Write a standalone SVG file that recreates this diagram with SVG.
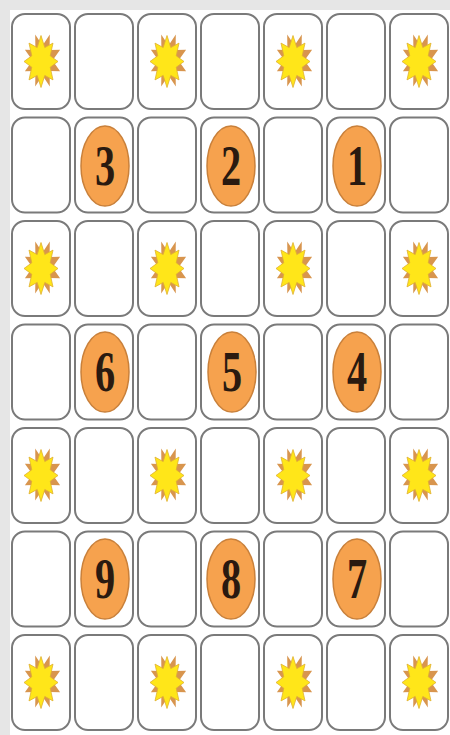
<svg xmlns="http://www.w3.org/2000/svg" xmlns:xlink="http://www.w3.org/1999/xlink" width="450" height="735" viewBox="0 0 450 735">
<style>
.cell{fill:#ffffff;stroke:#7a7a7a;stroke-width:2}
.disc{fill:#f6a24e;stroke:#c9803a;stroke-width:1.5}
.num{font-family:"Liberation Serif","DejaVu Serif",serif;font-weight:bold;font-size:56px;fill:#2a1a10;text-anchor:middle}
.sy{fill:#ffe619;stroke:#e0b030;stroke-width:0.8}
.so{fill:#d8954e}
</style>
<defs>
<g id="star">
<polygon class="so" transform="translate(1.5,-1)" points="0,-15 7.3,-25.9 7.1,-10.6 17.6,-10.7 10,0 17.6,10.7 7.1,10.6 7.3,25.9 0,15 -7.3,25.9 -7.1,10.6 -17.6,10.7 -10,0 -17.6,-10.7 -7.1,-10.6 -7.3,-25.9"/>
<polygon class="sy" points="0,-26 3.8,-13.9 12,-18.4 9.2,-5.7 17,0 9.2,5.7 12,18.4 3.8,13.9 0,26 -3.8,13.9 -12,18.4 -9.2,5.7 -17,0 -9.2,-5.7 -12,-18.4 -3.8,-13.9"/>
</g>
</defs>
<rect width="450" height="735" fill="#e6e6e6"/>
<rect x="10" y="10" width="440" height="725" fill="#ffffff"/>
<g id="connectors"/>
<!-- Row 0 -->
<g id="r0c0"><rect class="cell" x="12" y="14" width="58" height="95" rx="13"/><use xlink:href="#star" href="#star" x="41" y="61.5"/></g>
<g id="r0c1"><rect class="cell" x="75" y="14" width="58" height="95" rx="13"/></g>
<g id="r0c2"><rect class="cell" x="138" y="14" width="58" height="95" rx="13"/><use xlink:href="#star" href="#star" x="167" y="61.5"/></g>
<g id="r0c3"><rect class="cell" x="201" y="14" width="58" height="95" rx="13"/></g>
<g id="r0c4"><rect class="cell" x="264" y="14" width="58" height="95" rx="13"/><use xlink:href="#star" href="#star" x="293" y="61.5"/></g>
<g id="r0c5"><rect class="cell" x="327" y="14" width="58" height="95" rx="13"/></g>
<g id="r0c6"><rect class="cell" x="390" y="14" width="58" height="95" rx="13"/><use xlink:href="#star" href="#star" x="419" y="61.5"/></g>
<!-- Row 1 -->
<g id="r1c0"><rect class="cell" x="12" y="117.5" width="58" height="95" rx="13"/></g>
<g id="r1c1"><rect class="cell" x="75" y="117.5" width="58" height="95" rx="13"/><ellipse class="disc" cx="105" cy="166" rx="24" ry="40"/><text class="num" transform="translate(105,166) scale(0.72,1)" y="19">3</text></g>
<g id="r1c2"><rect class="cell" x="138" y="117.5" width="58" height="95" rx="13"/></g>
<g id="r1c3"><rect class="cell" x="201" y="117.5" width="58" height="95" rx="13"/><ellipse class="disc" cx="231" cy="166" rx="24" ry="40"/><text class="num" transform="translate(231,166) scale(0.72,1)" y="19">2</text></g>
<g id="r1c4"><rect class="cell" x="264" y="117.5" width="58" height="95" rx="13"/></g>
<g id="r1c5"><rect class="cell" x="327" y="117.5" width="58" height="95" rx="13"/><ellipse class="disc" cx="357" cy="166" rx="24" ry="40"/><text class="num" transform="translate(357,166) scale(0.72,1)" y="19">1</text></g>
<g id="r1c6"><rect class="cell" x="390" y="117.5" width="58" height="95" rx="13"/></g>
<!-- Row 2 -->
<g id="r2c0"><rect class="cell" x="12" y="221" width="58" height="95" rx="13"/><use xlink:href="#star" href="#star" x="41" y="268.5"/></g>
<g id="r2c1"><rect class="cell" x="75" y="221" width="58" height="95" rx="13"/></g>
<g id="r2c2"><rect class="cell" x="138" y="221" width="58" height="95" rx="13"/><use xlink:href="#star" href="#star" x="167" y="268.5"/></g>
<g id="r2c3"><rect class="cell" x="201" y="221" width="58" height="95" rx="13"/></g>
<g id="r2c4"><rect class="cell" x="264" y="221" width="58" height="95" rx="13"/><use xlink:href="#star" href="#star" x="293" y="268.5"/></g>
<g id="r2c5"><rect class="cell" x="327" y="221" width="58" height="95" rx="13"/></g>
<g id="r2c6"><rect class="cell" x="390" y="221" width="58" height="95" rx="13"/><use xlink:href="#star" href="#star" x="419" y="268.5"/></g>
<!-- Row 3 -->
<g id="r3c0"><rect class="cell" x="12" y="324.5" width="58" height="95" rx="13"/></g>
<g id="r3c1"><rect class="cell" x="75" y="324.5" width="58" height="95" rx="13"/><ellipse class="disc" cx="105" cy="372" rx="24" ry="40"/><text class="num" transform="translate(105,372) scale(0.72,1)" y="19">6</text></g>
<g id="r3c2"><rect class="cell" x="138" y="324.5" width="58" height="95" rx="13"/></g>
<g id="r3c3"><rect class="cell" x="201" y="324.5" width="58" height="95" rx="13"/><ellipse class="disc" cx="232" cy="372" rx="24" ry="40"/><text class="num" transform="translate(232,372) scale(0.72,1)" y="19">5</text></g>
<g id="r3c4"><rect class="cell" x="264" y="324.5" width="58" height="95" rx="13"/></g>
<g id="r3c5"><rect class="cell" x="327" y="324.5" width="58" height="95" rx="13"/><ellipse class="disc" cx="357" cy="372" rx="24" ry="40"/><text class="num" transform="translate(357,372) scale(0.72,1)" y="19">4</text></g>
<g id="r3c6"><rect class="cell" x="390" y="324.5" width="58" height="95" rx="13"/></g>
<!-- Row 4 -->
<g id="r4c0"><rect class="cell" x="12" y="428" width="58" height="95" rx="13"/><use xlink:href="#star" href="#star" x="41" y="475.5"/></g>
<g id="r4c1"><rect class="cell" x="75" y="428" width="58" height="95" rx="13"/></g>
<g id="r4c2"><rect class="cell" x="138" y="428" width="58" height="95" rx="13"/><use xlink:href="#star" href="#star" x="167" y="475.5"/></g>
<g id="r4c3"><rect class="cell" x="201" y="428" width="58" height="95" rx="13"/></g>
<g id="r4c4"><rect class="cell" x="264" y="428" width="58" height="95" rx="13"/><use xlink:href="#star" href="#star" x="293" y="475.5"/></g>
<g id="r4c5"><rect class="cell" x="327" y="428" width="58" height="95" rx="13"/></g>
<g id="r4c6"><rect class="cell" x="390" y="428" width="58" height="95" rx="13"/><use xlink:href="#star" href="#star" x="419" y="475.5"/></g>
<!-- Row 5 -->
<g id="r5c0"><rect class="cell" x="12" y="531.5" width="58" height="95" rx="13"/></g>
<g id="r5c1"><rect class="cell" x="75" y="531.5" width="58" height="95" rx="13"/><ellipse class="disc" cx="105" cy="579" rx="24" ry="40"/><text class="num" transform="translate(105,579) scale(0.72,1)" y="19">9</text></g>
<g id="r5c2"><rect class="cell" x="138" y="531.5" width="58" height="95" rx="13"/></g>
<g id="r5c3"><rect class="cell" x="201" y="531.5" width="58" height="95" rx="13"/><ellipse class="disc" cx="231" cy="579" rx="24" ry="40"/><text class="num" transform="translate(231,579) scale(0.72,1)" y="19">8</text></g>
<g id="r5c4"><rect class="cell" x="264" y="531.5" width="58" height="95" rx="13"/></g>
<g id="r5c5"><rect class="cell" x="327" y="531.5" width="58" height="95" rx="13"/><ellipse class="disc" cx="357" cy="579" rx="24" ry="40"/><text class="num" transform="translate(357,579) scale(0.72,1)" y="19">7</text></g>
<g id="r5c6"><rect class="cell" x="390" y="531.5" width="58" height="95" rx="13"/></g>
<!-- Row 6 -->
<g id="r6c0"><rect class="cell" x="12" y="635" width="58" height="95" rx="13"/><use xlink:href="#star" href="#star" x="41" y="682.5"/></g>
<g id="r6c1"><rect class="cell" x="75" y="635" width="58" height="95" rx="13"/></g>
<g id="r6c2"><rect class="cell" x="138" y="635" width="58" height="95" rx="13"/><use xlink:href="#star" href="#star" x="167" y="682.5"/></g>
<g id="r6c3"><rect class="cell" x="201" y="635" width="58" height="95" rx="13"/></g>
<g id="r6c4"><rect class="cell" x="264" y="635" width="58" height="95" rx="13"/><use xlink:href="#star" href="#star" x="293" y="682.5"/></g>
<g id="r6c5"><rect class="cell" x="327" y="635" width="58" height="95" rx="13"/></g>
<g id="r6c6"><rect class="cell" x="390" y="635" width="58" height="95" rx="13"/><use xlink:href="#star" href="#star" x="419" y="682.5"/></g>
</svg>
